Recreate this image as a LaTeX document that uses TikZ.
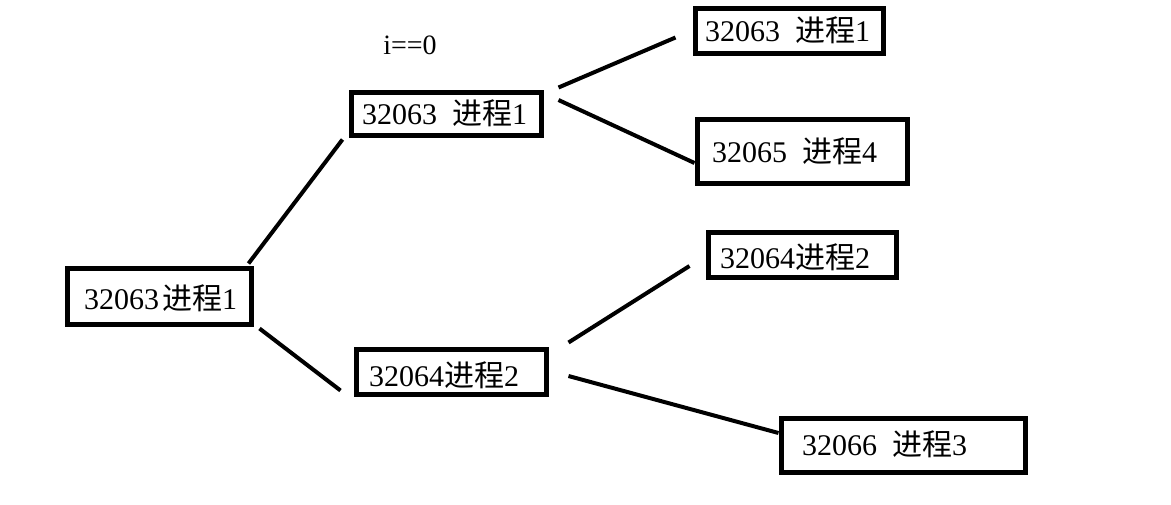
\documentclass[tikz,border=0pt]{standalone}
\usepackage{fontspec}
\setmainfont{Liberation Serif}
\newfontfamily\cjk{Noto Sans CJK SC}
\newcommand\gapsp{\hspace{15pt}}
\begin{document}
\begin{tikzpicture}[x=1pt,y=-1pt,
  box/.style={draw=black,line width=5pt,inner sep=0pt,anchor=center},
  lbl/.style={inner sep=0pt,anchor=west,font=\fontsize{30}{33}\selectfont},
  conn/.style={line width=4pt}]
\useasboundingbox (0,0) rectangle (1171,504);
% boxes
\node[box,minimum width=184pt,minimum height=56pt] (A) at (159,296) {};
\node[box,minimum width=190pt,minimum height=43pt] (B) at (446,113.5) {};
\node[box,minimum width=188pt,minimum height=45pt] (C) at (789,30.5) {};
\node[box,minimum width=210pt,minimum height=64pt] (D) at (802,151) {};
\node[box,minimum width=188pt,minimum height=45pt] (E) at (802,254.5) {};
\node[box,minimum width=190pt,minimum height=45pt] (F) at (451,371.5) {};
\node[box,minimum width=244pt,minimum height=54pt] (G) at (903,445) {};
% labels
\node[lbl] (At) at (84,298) {32063\hspace{3pt}{\cjk 进程}1};
\node[lbl] (Bt) at (362,113) {32063\gapsp{\cjk 进程}1};
\node[lbl] (Ct) at (705,30) {32063\gapsp{\cjk 进程}1};
\node[lbl] (Dt) at (712,151) {32065\gapsp{\cjk 进程}4};
\node[lbl] (Et) at (720,257) {32064{\cjk 进程}2};
\node[lbl] (Ft) at (369,375) {32064{\cjk 进程}2};
\node[lbl] (Gt) at (802,444) {32066\gapsp{\cjk 进程}3};
\node[inner sep=0pt,font=\fontsize{28}{30}\selectfont] (cond) at (410,45) {i==0};
% connectors
\draw[conn] ([xshift=-5pt,yshift=2pt]A.north east) -- ([xshift=-6pt,yshift=-2pt]B.south west);
\draw[conn] ([xshift=6pt,yshift=-2pt]A.south east) -- ([xshift=-13pt,yshift=6pt]F.south west);
\draw[conn] ([xshift=15pt,yshift=2pt]B.north east) -- ([xshift=-17pt,yshift=18pt]C.south west);
\draw[conn] ([xshift=15pt,yshift=13.5pt]B.east) -- ([yshift=-12pt]D.west);
\draw[conn] ([xshift=20pt,yshift=4pt]F.north east) -- ([xshift=-16pt,yshift=-11.5pt]E.west);
\draw[conn] ([xshift=20pt,yshift=-4.5pt]F.east) -- ([yshift=12pt]G.west);
\end{tikzpicture}
\end{document}
